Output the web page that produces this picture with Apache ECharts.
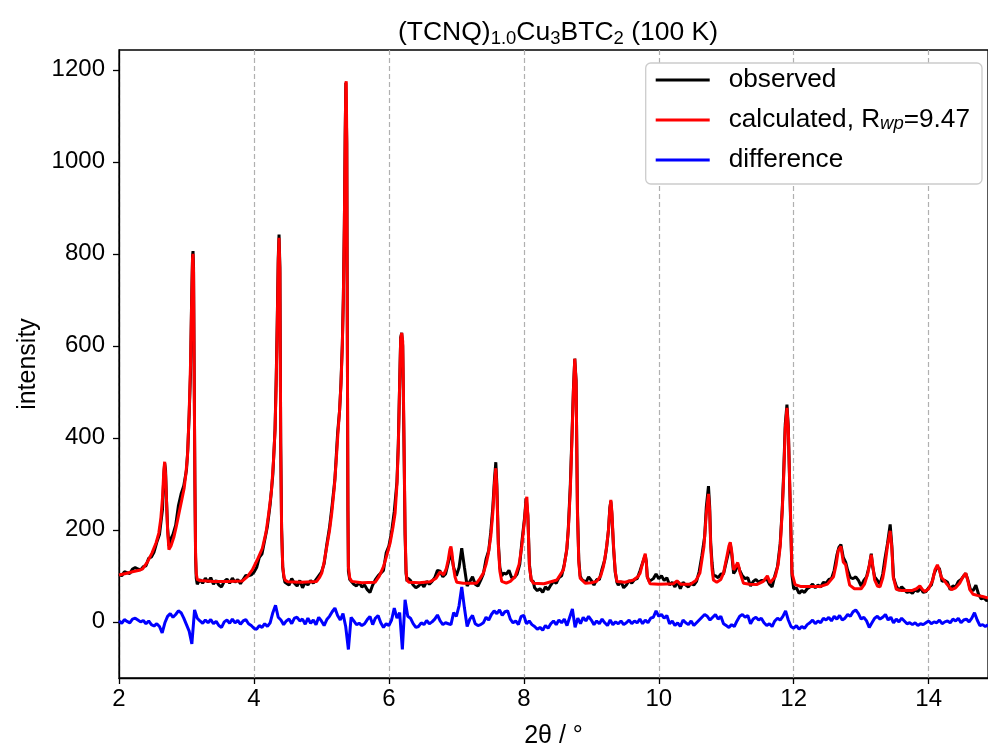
<!DOCTYPE html>
<html>
<head>
<meta charset="utf-8">
<title>(TCNQ)1.0Cu3BTC2 (100 K)</title>
<script src="https://cdn.jsdelivr.net/npm/echarts@6/dist/echarts.min.js"></script>
<style>
  html, body { margin: 0; padding: 0; background: #fff; }
  #chart { width: 988px; height: 749px; }
</style>
</head>
<body>
<div id="chart"></div>
<script>
// Powder pattern at 100 K: observed counts, Rietveld/Le Bail fit and residual.

// Observed intensity, [2θ, counts]
const observed = [
  [2.00,104],[2.04,100],[2.08,109],[2.12,107],[2.16,105],[2.20,115],[2.24,118],[2.28,115],[2.32,113],[2.36,120],
  [2.40,122],[2.44,138],[2.48,141],[2.52,152],[2.56,173],[2.60,190],[2.645,245],[2.665,320],[2.677,345],[2.69,330],
  [2.705,262],[2.72,205],[2.74,165],[2.76,178],[2.80,190],[2.84,210],[2.88,252],[2.92,278],[2.96,296],[3.00,330],
  [3.02,375],[3.04,450],[3.06,540],[3.075,690],[3.09,795],[3.097,806],[3.105,770],[3.115,530],[3.125,300],[3.135,140],
  [3.145,95],[3.16,82],[3.20,92],[3.24,84],[3.28,95],[3.32,86],[3.36,96],[3.40,82],[3.44,90],[3.48,80],
  [3.52,76],[3.56,88],[3.60,93],[3.64,84],[3.68,95],[3.72,86],[3.76,92],[3.80,83],[3.84,92],[3.88,101],
  [3.92,100],[3.96,102],[4.00,108],[4.04,118],[4.08,140],[4.12,148],[4.16,178],[4.20,208],[4.24,255],[4.28,320],
  [4.30,380],[4.313,420],[4.33,530],[4.345,650],[4.36,790],[4.372,842],[4.385,770],[4.397,390],[4.41,205],[4.427,118],
  [4.445,96],[4.46,86],[4.48,90],[4.52,80],[4.56,94],[4.60,84],[4.64,78],[4.68,90],[4.72,74],[4.76,86],
  [4.80,80],[4.84,90],[4.88,84],[4.92,92],[4.96,100],[5.00,108],[5.04,126],[5.08,168],[5.12,205],[5.16,255],
  [5.20,310],[5.24,410],[5.27,460],[5.29,520],[5.31,605],[5.325,705],[5.34,865],[5.352,1055],[5.362,1172],[5.368,1176],
  [5.376,1040],[5.385,590],[5.393,240],[5.40,110],[5.42,92],[5.44,90],[5.48,82],[5.52,78],[5.56,86],[5.60,76],
  [5.64,80],[5.68,70],[5.72,64],[5.76,80],[5.80,92],[5.84,100],[5.88,106],[5.92,112],[5.96,150],[6.00,165],
  [6.04,195],[6.08,240],[6.12,305],[6.14,390],[6.16,520],[6.175,618],[6.19,628],[6.205,600],[6.22,430],[6.24,190],
  [6.255,105],[6.27,88],[6.28,95],[6.32,90],[6.36,80],[6.40,74],[6.44,78],[6.48,84],[6.52,76],[6.56,88],
  [6.60,82],[6.64,88],[6.68,96],[6.72,112],[6.76,110],[6.80,98],[6.84,104],[6.88,128],[6.92,152],[6.96,118],
  [7.00,100],[7.04,118],[7.08,160],[7.12,118],[7.16,78],[7.20,88],[7.24,98],[7.28,82],[7.32,78],[7.36,90],
  [7.40,104],[7.44,136],[7.48,155],[7.51,195],[7.54,248],[7.565,310],[7.585,347],[7.60,300],[7.623,170],[7.645,118],
  [7.673,100],[7.70,106],[7.74,104],[7.78,112],[7.82,96],[7.86,96],[7.90,104],[7.94,125],[7.97,172],[8.01,225],
  [8.035,268],[8.045,270],[8.06,232],[8.083,125],[8.11,90],[8.14,88],[8.16,74],[8.20,68],[8.24,72],[8.28,64],
  [8.32,76],[8.36,70],[8.40,80],[8.44,88],[8.48,84],[8.52,96],[8.56,100],[8.60,125],[8.64,160],[8.66,205],
  [8.69,300],[8.71,390],[8.735,505],[8.755,572],[8.775,525],[8.795,245],[8.815,135],[8.835,100],[8.86,92],[8.88,96],
  [8.92,86],[8.96,98],[9.00,90],[9.04,80],[9.08,92],[9.12,92],[9.16,115],[9.20,135],[9.23,165],[9.255,200],
  [9.275,248],[9.29,262],[9.305,235],[9.33,160],[9.355,108],[9.38,86],[9.40,80],[9.44,88],[9.48,74],[9.52,80],
  [9.56,90],[9.60,84],[9.64,92],[9.68,94],[9.72,110],[9.76,128],[9.80,145],[9.815,132],[9.83,98],[9.86,88],
  [9.88,90],[9.92,94],[9.96,104],[10.00,94],[10.04,100],[10.08,90],[10.12,96],[10.16,80],[10.20,86],[10.24,76],
  [10.28,88],[10.32,72],[10.36,86],[10.40,80],[10.44,76],[10.48,84],[10.52,80],[10.56,88],[10.60,110],[10.64,145],
  [10.68,185],[10.705,250],[10.737,295],[10.755,250],[10.77,172],[10.79,128],[10.81,100],[10.84,100],[10.88,96],[10.92,104],
  [10.96,104],[11.00,130],[11.04,155],[11.06,170],[11.08,150],[11.11,105],[11.14,112],[11.17,125],[11.20,112],[11.24,100],
  [11.28,94],[11.32,96],[11.36,78],[11.40,88],[11.44,92],[11.48,86],[11.52,90],[11.56,90],[11.60,94],[11.64,82],
  [11.68,76],[11.72,100],[11.76,120],[11.80,170],[11.83,245],[11.85,318],[11.875,430],[11.90,472],[11.92,425],[11.94,300],
  [11.975,100],[12.00,72],[12.04,74],[12.08,62],[12.12,68],[12.16,64],[12.20,72],[12.24,76],[12.28,82],[12.32,74],
  [12.36,80],[12.40,76],[12.44,86],[12.48,84],[12.52,92],[12.56,94],[12.60,112],[12.64,145],[12.67,162],[12.70,168],
  [12.735,140],[12.77,130],[12.80,112],[12.84,96],[12.88,94],[12.92,98],[12.96,90],[13.00,78],[13.04,90],[13.08,98],
  [13.12,122],[13.15,148],[13.17,120],[13.20,98],[13.24,90],[13.28,82],[13.32,104],[13.35,135],[13.39,170],[13.43,212],
  [13.455,165],[13.48,96],[13.52,78],[13.56,68],[13.60,76],[13.64,70],[13.68,64],[13.72,66],[13.76,62],[13.80,70],
  [13.84,66],[13.88,74],[13.92,64],[13.96,66],[14.00,74],[14.04,80],[14.08,104],[14.12,118],[14.16,116],[14.20,88],
  [14.24,90],[14.28,86],[14.32,70],[14.36,78],[14.40,76],[14.44,88],[14.48,92],[14.52,100],[14.55,105],[14.58,92],
  [14.62,70],[14.66,68],[14.70,80],[14.74,60],[14.78,50],[14.82,52],[14.86,46],[14.88,48]
];

// Calculated profile, [2θ, counts]
const calculated = [
  [2.00,102],[2.10,105],[2.20,109],[2.30,112],[2.35,115],[2.42,130],[2.49,150],[2.55,172],[2.59,193],[2.62,225],
  [2.645,270],[2.665,330],[2.677,348],[2.69,320],[2.705,260],[2.72,200],[2.74,157],[2.77,165],[2.815,185],[2.85,208],
  [2.89,237],[2.93,265],[2.965,290],[2.99,320],[3.015,360],[3.04,454],[3.06,560],[3.075,680],[3.09,790],[3.097,800],
  [3.105,760],[3.115,520],[3.125,300],[3.135,150],[3.145,105],[3.16,92],[3.20,90],[3.40,88],[3.60,88],[3.83,89],
  [3.90,98],[3.976,113],[4.05,135],[4.125,160],[4.18,195],[4.22,237],[4.26,285],[4.29,350],[4.313,417],[4.33,520],
  [4.345,640],[4.36,780],[4.372,835],[4.385,760],[4.397,381],[4.41,200],[4.427,120],[4.445,98],[4.461,91],[4.50,87],
  [4.70,86],[4.93,88],[4.97,96],[5.005,106],[5.04,130],[5.08,164],[5.12,198],[5.153,236],[5.19,290],[5.217,345],
  [5.245,410],[5.267,454],[5.29,515],[5.31,600],[5.325,700],[5.34,860],[5.352,1050],[5.362,1170],[5.368,1175],[5.376,1050],
  [5.385,600],[5.393,250],[5.40,120],[5.42,95],[5.45,88],[5.60,85],[5.795,86],[5.86,100],[5.92,120],[5.97,145],
  [6.018,171],[6.06,205],[6.092,236],[6.12,300],[6.14,381],[6.16,520],[6.175,615],[6.19,628],[6.205,610],[6.22,450],
  [6.24,200],[6.255,110],[6.27,90],[6.30,86],[6.45,85],[6.61,87],[6.70,95],[6.76,109],[6.81,102],[6.85,115],
  [6.88,135],[6.905,158],[6.92,164],[6.935,150],[6.956,120],[6.98,98],[7.006,86],[7.10,84],[7.30,84],[7.35,94],
  [7.40,106],[7.44,125],[7.475,149],[7.51,185],[7.54,236],[7.565,300],[7.585,334],[7.60,290],[7.623,164],[7.645,110],
  [7.673,88],[7.74,84],[7.80,88],[7.87,98],[7.93,125],[7.97,164],[8.01,220],[8.035,265],[8.045,272],[8.06,230],
  [8.083,120],[8.11,92],[8.14,84],[8.30,83],[8.49,91],[8.587,113],[8.63,150],[8.66,200],[8.69,290],[8.71,381],
  [8.735,500],[8.755,572],[8.775,520],[8.795,236],[8.815,130],[8.835,95],[8.91,84],[9.00,85],[9.08,88],[9.14,100],
  [9.18,120],[9.22,155],[9.255,200],[9.275,245],[9.29,265],[9.305,240],[9.33,164],[9.355,110],[9.38,88],[9.50,86],
  [9.625,91],[9.69,98],[9.724,106],[9.773,135],[9.80,148],[9.815,130],[9.83,98],[9.87,83],[10.00,82],[10.22,83],
  [10.27,89],[10.32,82],[10.47,82],[10.55,90],[10.61,106],[10.67,164],[10.705,235],[10.737,278],[10.755,240],[10.77,164],
  [10.79,115],[10.81,91],[10.86,86],[10.92,92],[10.96,106],[11.01,142],[11.04,165],[11.06,173],[11.08,155],[11.11,113],
  [11.14,120],[11.17,129],[11.19,118],[11.207,106],[11.256,84],[11.35,82],[11.45,81],[11.55,88],[11.61,100],[11.65,85],
  [11.726,98],[11.77,125],[11.80,164],[11.83,240],[11.85,309],[11.875,420],[11.90,465],[11.92,420],[11.94,309],[11.975,106],
  [12.02,81],[12.10,77],[12.40,77],[12.50,82],[12.59,98],[12.63,125],[12.66,155],[12.70,164],[12.735,130],[12.77,124],
  [12.80,100],[12.83,80],[12.90,72],[13.00,72],[13.05,82],[13.10,106],[13.13,130],[13.15,146],[13.17,125],[13.20,91],
  [13.24,78],[13.28,76],[13.32,95],[13.35,120],[13.39,165],[13.43,198],[13.455,160],[13.475,98],[13.52,71],[13.60,68],
  [13.75,68],[13.82,72],[13.87,78],[13.91,70],[13.945,66],[14.00,72],[14.06,90],[14.093,113],[14.13,124],[14.16,112],
  [14.19,96],[14.22,92],[14.26,84],[14.34,70],[14.40,74],[14.46,84],[14.51,98],[14.55,106],[14.58,90],[14.61,70],
  [14.66,60],[14.735,57],[14.80,55],[14.88,52]
];

// Residual (observed - calculated), sampled every 0.04° from 2.00°
const diffStart = 2.0;
const diffStep = 0.04;
const difference = [
  2, -3, 5, 1, -2, 6, 8, 4, 0, 3, -4, 2, -6, -9, -4, -10, -24, -2, 12, 18, 10, 16, 24, 20, 8,
  -6, -20, -48, 26, 8, 2, -3, 4, -2, 5, -4, 1, -8, -12, 0, 4, -3, 6, -2, 3, -5, 2, 5, -4, -8,
  -14, -16, -8, -12, -4, -10, -2, 20, 36, 10, 4, -6, 2, 6, -4, 8, 10, 2, 6, -5, 8, -3, 4, -6, 10,
  2, -8, 5, 12, 22, 30, 14, 4, 18, -10, -60, 10, 2, -6, -3, -8, -4, 5, 12, -6, 8, 14, -2, -12, -4,
  -8, 4, 30, 8, 20, -60, 48, 12, 8, -4, -12, -10, -2, -6, 3, -4, 0, 6, 15, 2, -6, -2, -4, -6, 20,
  12, 35, 76, 30, -10, 6, 14, -4, -8, -6, -2, 10, 4, 16, 24, 18, 26, 14, 22, 24, 6, -2, 2, -6, 12,
  14, -4, 2, -6, -10, -16, -12, -18, -8, -14, -4, 2, -6, 4, -2, 6, -8, 10, 28, -12, 8, -4, 10, 2, 12,
  4, -6, 2, -4, 6, -2, -8, 4, -6, 0, -4, 2, -6, -2, 4, -4, 2, -2, 6, -4, 4, -2, 8, 10, 24,
  12, 16, 8, 14, -4, 2, -8, -2, -10, 4, -2, -6, 2, -8, -2, 4, 10, 16, 12, 4, 10, 16, 6, 12, -4,
  -8, -12, -6, -10, 2, 12, 16, 10, 14, -4, 6, 10, 4, 8, -2, -8, -4, -10, 2, 8, 4, 12, 24, 4, -10,
  -14, -8, -16, -10, -14, -6, -2, 4, -4, 2, -2, 8, 4, 10, 2, 12, 6, 14, 4, 8, 16, 12, 22, 26, 18,
  6, 10, 2, -12, -2, 8, 12, 6, 10, 16, 4, 10, -2, 6, 0, 8, 2, -4, -2, -6, -2, -8, -4, -6, -2,
  2, -4, 0, -2, 4, -4, 0, 2, -2, 6, 2, 8, -2, 4, 6, 0, 8, 20, 4, -8, -6, -10, -6
];

const xTicks = [2, 4, 6, 8, 10, 12, 14];
const yTicks = [0, 200, 400, 600, 800, 1000, 1200];

const legendText = {
  observed: 'observed',
  calculated: 'calculated, R{sub|wp}=9.47',
  difference: 'difference'
};

const FONT = 'Liberation Sans, Arial, sans-serif';
const diffData = difference.map((v, i) => [+(diffStart + i * diffStep).toFixed(2), v]);

const chart = echarts.init(document.getElementById('chart'), null, { renderer: 'canvas' });

chart.setOption({
  animation: false,
  backgroundColor: '#ffffff',
  title: {
    text: '(TCNQ){s|1.0}Cu{s|3}BTC{s|2} (100 K)',
    left: 553,
    top: 13,
    textAlign: 'center',
    textStyle: {
      fontFamily: FONT, fontSize: 26.5, fontWeight: 'normal', color: '#000', lineHeight: 30,
      rich: {
        s: { fontFamily: FONT, fontSize: 18.5, color: '#000', lineHeight: 22, verticalAlign: 'bottom' }
      }
    }
  },
  legend: {
    data: ['observed', 'calculated', 'difference'],
    orient: 'vertical',
    right: 6,
    top: 63,
    icon: 'rect',
    itemWidth: 54,
    itemHeight: 3,
    itemGap: 14,
    padding: [4, 12, 11, 10],
    backgroundColor: '#ffffff',
    borderColor: '#cccccc',
    borderWidth: 1.3,
    borderRadius: 5,
    formatter: name => legendText[name],
    textStyle: {
      fontFamily: FONT, fontSize: 26.2, color: '#000', lineHeight: 26,
      padding: [0, 0, 0, 14],
      rich: {
        sub: { fontFamily: FONT, fontSize: 18.5, fontStyle: 'italic', color: '#000', lineHeight: 20, verticalAlign: 'bottom' }
      }
    }
  },
  grid: {
    left: 119, right: 0, top: 50, bottom: 71,
    outerBoundsMode: 'none',
    show: true, borderColor: '#000', borderWidth: 1.3, backgroundColor: 'transparent'
  },
  xAxis: {
    type: 'value',
    min: 2, max: 14.88, interval: 2,
    name: '2θ / °',
    nameLocation: 'middle',
    nameGap: 46,
    nameTextStyle: { fontFamily: FONT, fontSize: 25, color: '#000' },
    axisLine: { show: true, onZero: false, lineStyle: { color: '#000', width: 1.3 } },
    axisTick: { show: true, customValues: xTicks, length: 6, lineStyle: { color: '#000', width: 1.3 } },
    axisLabel: { customValues: xTicks, fontFamily: FONT, fontSize: 24, color: '#000', margin: 9, formatter: v => String(v) },
    splitLine: { show: true, lineStyle: { color: '#b0b0b0', width: 1.2, type: [5, 3] } }
  },
  yAxis: {
    type: 'value',
    min: -122, max: 1243,
    name: 'intensity',
    nameLocation: 'middle',
    nameGap: 74,
    nameTextStyle: { fontFamily: FONT, fontSize: 25, color: '#000' },
    axisLine: { show: true, onZero: false, lineStyle: { color: '#000', width: 1.3 } },
    axisTick: { show: true, customValues: yTicks, length: 6, lineStyle: { color: '#000', width: 1.3 } },
    axisLabel: { customValues: yTicks, fontFamily: FONT, fontSize: 24, color: '#000', margin: 14, formatter: v => String(v) },
    splitLine: { show: false }
  },
  series: [
    {
      name: 'observed', type: 'line', data: observed, symbol: 'none',
      lineStyle: { color: '#000000', width: 3 }, itemStyle: { color: '#000000' }, z: 2
    },
    {
      name: 'calculated', type: 'line', data: calculated, symbol: 'none',
      lineStyle: { color: '#ff0000', width: 3 }, itemStyle: { color: '#ff0000' }, z: 3
    },
    {
      name: 'difference', type: 'line', data: diffData, symbol: 'none',
      lineStyle: { color: '#0000ff', width: 3 }, itemStyle: { color: '#0000ff' }, z: 4
    }
  ]
});
</script>
</body>
</html>
